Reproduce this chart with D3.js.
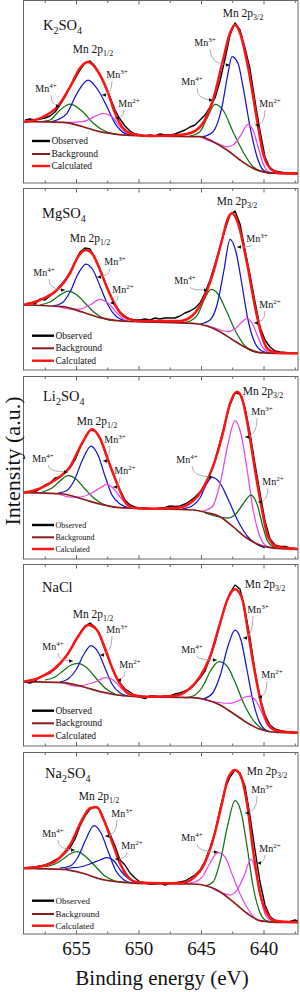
<!DOCTYPE html>
<html lang="en">
<head>
<meta charset="utf-8">
<script src="https://d3js.org/d3.v7.min.js"></script>
<title>Mn 2p XPS</title>
<style>
  body{margin:0;background:#fff;}
</style>
</head>
<body>
<script>

// ---------- data ----------

// sampling energies of the observed spectra (eV)
var energy = [659.08,658.68,658.28,657.88,657.48,657.08,656.68,656.28,655.88,655.48,
  655.08,654.68,654.28,653.88,653.48,653.08,652.68,652.28,651.88,651.48,
  651.08,650.68,650.28,649.88,649.48,649.08,648.68,648.28,647.88,647.48,
  647.08,646.68,646.28,645.88,645.48,645.08,644.68,644.28,643.88,643.48,
  643.08,642.68,642.28,641.88,641.48,641.08,640.68,640.28,639.88,639.48,
  639.08,638.68,638.28,637.88,637.48,637.08];

var tickMajor = [655, 650, 645, 640];
var tickMinor = [657.5, 652.5, 647.5, 642.5, 637.5];
var samples = ["K_{2}SO_{4}", "MgSO_{4}", "Li_{2}SO_{4}", "NaCl", "Na_{2}SO_{4}"];
var peaks = ["Mn 2p_{1/2}", "Mn 2p_{3/2}"];
var ions = ["Mn^{4+}", "Mn^{3+}", "Mn^{2+}"];
var legendNames = ["Observed", "Background", "Calculated"];

// K2SO4
var k2Observed = [63,64,63,64,65,67,71,78,86,96,104,113,120,122,117,108,97,86,73,64,
  57,52,49,48,47,48,47,49,48,48,49,51,53,56,58,63,68,76,85,102,
  124,148,160,153,135,114,82,52,26,15,12,11,10,10,9.7,9.7];
var k2Background = [[659.2,61.3],[656.04,60.7],[654.44,56.3],[653.08,51.3],[651.72,48.7],[650.12,47.3],[648.28,46.8],[645.08,46.3],[644.04,41.3],[642.92,33],[641.88,23],[640.84,14.7],[639.72,10.3],[638.44,9.3],[637.24,9]];
var k2Calculated = [[659.2,61],[657.64,66],[656.44,77],[655.48,96],[654.68,115],[654.04,121],[653.32,113],[652.52,93],[651.88,70],[651.24,55],[650.44,49],[649.08,47],[646.68,48],[645.64,51],[644.84,60],[644.04,83],[643.24,123],[642.68,150],[642.28,158],[641.88,150],[641.24,116],[640.52,63],[640.04,30],[639.48,15],[638.68,10],[637.24,9.7]];
var k2Mn4a = [[657.72,61.5],[657.08,63],[656.28,73],[655.48,79],[654.44,71],[653.64,60],[652.52,51],[651.72,48.7]];
var k2Mn3a = [[657.0,61.2],[656.52,63],[655.72,69.7],[654.92,89.7],[654.04,103],[653.24,93],[652.52,76.3],[651.88,59.7],[651.08,49.7],[650.44,48]];
var k2Mn2a = [[656.04,60.7],[655.48,60.7],[654.44,61.3],[653.64,65.7],[652.84,69.7],[652.12,66.3],[651.48,56.3],[650.84,49.7],[650.12,47.7]];
var k2Mn4b = [[645.88,47],[645.08,51.3],[644.52,64.7],[643.88,78.7],[643.24,73],[642.44,51.3],[641.64,31.3],[640.84,16.3],[640.04,11.3],[639.24,9.7]];
var k2Mn3b = [[644.84,46.3],[644.04,51.3],[643.32,76.3],[642.84,109.7],[642.52,126.3],[642.04,119.7],[641.64,96.3],[641.08,56.3],[640.52,26.3],[640.04,13],[639.48,9.7]];
var k2Mn2b = [[645.08,46.5],[644.52,43],[643.72,39.7],[642.92,36.3],[642.44,38],[641.88,46.3],[641.24,58.7],[640.84,53],[640.44,36.3],[640.04,19.7],[639.64,11.3],[638.92,9.7]];

// MgSO4
var mgObserved = [66,67,66,71,70,74,78,84,90,98,108,118,122,121,112,101,88,76,66,58,
  54,51,50,50,51,50,52,51,52,52,52,54,57,59,62,67,77,90,106,123,
  140,155,159,146,120,95,68,43,30,23,19,18,17.5,17,17,16.7];
var mgBackground = [[659.2,65],[656.04,63.3],[654.44,57.7],[653.08,52.3],[651.72,49.3],[650.12,48.3],[645.64,46.7],[644.52,44],[643.48,38.3],[642.44,30],[641.32,21.7],[640.28,17.3],[638.92,16.7],[637.24,16.7]];
var mgCalculated = [[659.2,65],[657.88,70],[656.52,80],[655.48,96.7],[654.84,113.3],[654.2,120],[653.72,116.7],[653.08,100],[652.44,80],[651.72,61.7],[650.92,51.7],[649.88,49],[646.68,49],[645.64,55],[644.84,70],[644.04,96.7],[643.32,130],[642.84,151.7],[642.52,156.7],[642.04,146.7],[641.32,106.7],[640.68,63.3],[640.12,33.3],[639.64,20.7],[638.92,17.3],[637.24,16.7]];
var mgMn4a = [[657.88,65],[657.08,68],[656.28,75],[655.64,79],[654.92,75],[654.28,67],[653.48,57],[652.68,51],[651.88,49]];
var mgMn3a = [[656.84,64],[656.12,67],[655.48,78],[654.84,96],[654.2,106],[653.64,100],[653.08,84],[652.44,65],[651.72,53],[650.92,49]];
var mgMn2a = [[656.28,63],[655.48,61],[654.68,61],[653.88,65],[653.08,70.7],[652.44,67],[651.8,58],[651.08,50],[650.44,48]];
var mgMn4b = [[646.68,47],[645.88,49],[645.24,56],[644.68,72],[644.2,80.7],[643.64,76],[643,60],[642.28,40],[641.48,24],[640.68,18],[640.12,17]];
var mgMn3b = [[645.08,46],[644.28,50],[643.72,65],[643.16,100],[642.68,130.7],[642.2,118],[641.72,85],[641.24,50],[640.68,27],[640.12,19],[639.48,17]];
var mgMn2b = [[644.68,45],[643.88,42],[643.32,39.5],[642.84,38.5],[642.28,41],[641.72,48],[641.32,51.7],[640.92,47],[640.44,33],[640.04,22],[639.48,17.5],[638.84,16.8]];

// Li2SO4
var liObserved = [66.5,67,67,70,74,76,81,82,87,91,99,111,121,129,128,121,109,94,80,69,
  59,54,52,50.5,51,50.5,50,51,51.5,53,52.5,53,55,58,62,67,75,85,99,117,
  136,154,166,165,151,126,95,66,38,20,14,12.5,12.5,11,10.5,10];
var liBackground = [[659.2,66.3],[656.04,65],[654.44,59.7],[653.08,55],[651.72,51.7],[650.12,50.7],[645.64,49],[644.52,46.3],[643.48,42.3],[642.44,32.3],[641.32,20.7],[640.28,14],[638.92,10.7],[637.24,10]];
var liCalculated = [[659.2,66.3],[657.88,70.7],[656.68,79],[655.48,92.3],[654.52,115.7],[653.72,129.7],[653.08,120.7],[652.44,99],[651.72,75.7],[651.08,57.3],[650.44,51.3],[649.08,50.3],[646.92,51.3],[645.72,57.3],[644.84,70.7],[644.04,92.3],[643.32,122.3],[642.68,155.7],[642.12,167.3],[641.72,160.7],[641.24,132.3],[640.68,89],[640.12,49],[639.64,22.3],[638.92,12.3],[637.24,10]];
var liMn4a = [[657.72,67],[656.92,71],[656.28,78],[655.64,83.3],[655,80],[654.28,70],[653.48,60],[652.68,54],[651.88,52]];
var liMn3a = [[656.44,66],[655.8,68],[655.16,78],[654.52,98],[653.8,113],[653.24,104],[652.68,83],[652.12,64],[651.48,55],[650.84,51.5]];
var liMn2a = [[656.28,64.5],[655.48,62],[654.68,62],[653.88,65],[653.08,71],[652.52,74.7],[652.04,71],[651.48,62],[650.84,54],[650.28,51]];
var liMn4b = [[646.52,50],[645.72,53],[645.08,61],[644.6,74],[644.12,81.7],[643.48,76],[642.84,60],[642.04,38],[641.24,22],[640.44,14],[639.88,11]];
var liMn3b = [[644.84,48],[644.12,52],[643.48,75],[642.84,115],[642.28,138.3],[641.8,125],[641.32,90],[640.84,50],[640.36,25],[639.88,14],[639.32,11]];
var liMn2b = [[644.68,46],[643.88,43],[643.32,41.5],[642.84,41],[642.28,44],[641.64,55],[641,64],[640.52,55],[640.04,32],[639.64,17],[639.08,11.5],[638.44,10.3]];

// NaCl
var naclObserved = [64,63,65,69,71,73,77,82,88,95,105,113,120,123,119,110,96,83,71,63,
  57,54,50,49,47.5,50,50,49,50,50,52,53,55,57,62,68,75,88,103,122,
  140,153,161,157,136,108,75,48,31,21,17,15.5,14.5,13.5,13,13.3];
var naclBackground = [[659.2,64.3],[656.04,63.3],[654.44,59.3],[653.08,54.3],[651.72,51],[650.12,49.3],[645.64,48.3],[644.52,46],[643.48,41],[642.44,32.7],[641.32,23.3],[640.28,16.7],[638.92,13.7],[637.24,13.3]];
var naclCalculated = [[659.2,64.3],[657.88,68.7],[656.68,77.7],[655.72,91],[654.84,109.3],[654.04,121],[653.32,116],[652.68,97.7],[652.04,76],[651.32,59.3],[650.68,51.7],[649.32,49.3],[647.24,50],[646.04,56],[645.08,69.3],[644.28,89.3],[643.48,122.7],[642.84,147.7],[642.28,156.7],[641.72,147.7],[641.24,114.3],[640.68,72.7],[640.12,39.3],[639.64,22],[638.92,15.3],[637.24,13.3]];
var naclMn4a = [[657.48,66],[656.68,69],[656.04,75],[655.4,81],[654.84,82.7],[654.2,79],[653.48,69],[652.68,58],[651.88,52],[651.08,50]];
var naclMn3a = [[656.28,64],[655.64,67],[655,76],[654.36,92],[653.8,100.3],[653.24,94],[652.68,78],[652.12,62],[651.48,53],[650.84,50]];
var naclMn2a = [[655.88,62.5],[655.08,60],[654.28,61],[653.48,64],[652.6,68.3],[652.04,66],[651.48,59],[650.84,52],[650.2,49.5]];
var naclMn4b = [[646.28,48],[645.48,51],[644.84,60],[644.2,76],[643.56,84.3],[642.92,80],[642.28,64],[641.56,42],[640.84,26],[640.12,17],[639.48,14]];
var naclMn3b = [[644.84,47],[644.12,52],[643.48,70],[642.84,100],[642.28,116],[641.8,106],[641.32,76],[640.84,45],[640.36,25],[639.88,16.5],[639.32,14]];
var naclMn2b = [[644.68,46],[643.88,44],[643.24,43],[642.68,42.7],[642.04,45],[641.48,49],[641.08,50],[640.6,45],[640.12,33],[639.64,20],[639.08,15],[638.44,13.7]];

// Na2SO4
var naObserved = [66,66.5,67,68,69,71,74,76,81,86,95,108,118,125,127.5,124,112,100,88,74,
  69,61,56,52,51,50,50,51,49,51,51,52,53,56,59,64,73,86,102,125,
  145,157,164,161,148,118,84,52,29,17.5,13.5,12.3,12,12.5,14,12];
var naBackground = [[659.2,65.7],[656.04,64.7],[654.44,60.7],[653.08,55],[651.72,52.3],[650.12,50.7],[645.64,50],[644.52,48],[643.48,42.3],[642.44,32.3],[641.32,20.7],[640.28,13.3],[638.92,11.7],[637.24,11.7]];
var naCalculated = [[659.2,65.7],[657.64,68],[656.52,74],[655.48,89],[654.52,114],[653.88,125.7],[653.32,126.7],[652.84,115.7],[652.12,92.3],[651.48,70.7],[650.84,57.3],[650.12,52],[648.28,50.7],[646.44,51.3],[645.48,57.3],[644.84,67.3],[644.04,94],[643.32,130.7],[642.84,155.7],[642.28,164],[641.8,157.3],[641.32,130.7],[640.84,84],[640.28,40.7],[639.72,20.7],[639.08,13.3],[637.24,11.7]];
var naMn4a = [[657.48,67],[656.68,70],[656.04,75],[655.48,80],[654.92,82.3],[654.28,78],[653.48,68],[652.68,58],[651.88,53],[651.08,51]];
var naMn3a = [[656.28,66],[655.48,68],[654.84,77],[654.2,95],[653.56,108.3],[653,101],[652.44,83],[651.8,63],[651.16,54],[650.52,51]];
var naMn2a = [[655.88,65.5],[655.48,66],[654.68,67],[653.88,70],[653.08,74],[652.52,76.3],[651.96,73],[651.4,63],[650.76,55],[650.12,51]];
var naMn4b = [[646.28,50.5],[645.48,52],[644.84,58],[644.28,71],[643.64,81.3],[643.08,77],[642.52,60],[641.88,40],[641.24,25],[640.6,15],[640.04,12]];
var naMn3b = [[644.68,48],[644.04,52],[643.48,72],[642.84,110],[642.28,133.3],[641.8,122],[641.32,88],[640.84,48],[640.36,24],[639.88,14],[639.32,12]];
var naMn2b = [[644.12,46],[643.32,41],[642.68,39],[642.12,44],[641.56,58],[641,74.7],[640.6,62],[640.2,35],[639.8,18],[639.24,12.5],[638.68,11.7]];

var panelData = [
  {obs: k2Observed, bg: k2Background, calc: k2Calculated, comps: [k2Mn4a, k2Mn3a, k2Mn2a, k2Mn4b, k2Mn3b, k2Mn2b]},
  {obs: mgObserved, bg: mgBackground, calc: mgCalculated, comps: [mgMn4a, mgMn3a, mgMn2a, mgMn4b, mgMn3b, mgMn2b]},
  {obs: liObserved, bg: liBackground, calc: liCalculated, comps: [liMn4a, liMn3a, liMn2a, liMn4b, liMn3b, liMn2b]},
  {obs: naclObserved, bg: naclBackground, calc: naclCalculated, comps: [naclMn4a, naclMn3a, naclMn2a, naclMn4b, naclMn3b, naclMn2b]},
  {obs: naObserved, bg: naBackground, calc: naCalculated, comps: [naMn4a, naMn3a, naMn2a, naMn4b, naMn3b, naMn2b]}
];

// ---------- styles & layout ----------

var FONT = "'Liberation Serif', 'Times New Roman', Times, 'DejaVu Serif', serif";
var G = "#117011", B = "#1414c8", M = "#e845e8";
var compColors = [
  [G, B, M, G, B, M],
  [G, B, M, G, B, M],
  [G, B, M, B, M, G],
  [G, B, M, G, B, M],
  [G, B, B, M, G, M]
];
var legendColors = ["#000", "#8b1a1a", "#ff1414"];

var layout = [
  {top: 0.5, bottom: 183, legend: [42, 29, 17], legendSize: 9.5, lineEnd: 50},
  {top: 188.5, bottom: 370, legend: [34.3, 21.7, 9.3], legendSize: 9.5, lineEnd: 54},
  {top: 376.5, bottom: 559, legend: [34, 21.7, 10], legendSize: 8, lineEnd: 54},
  {top: 564.5, bottom: 746, legend: [35.3, 22.7, 10.3], legendSize: 9.5, lineEnd: 54},
  {top: 752.5, bottom: 934, legend: [33.3, 20, 8.3], legendSize: 9, lineEnd: 54}
];

// annotation anchors in data coords [eV, intensity]
var notes = [
  {title: [657.64, 153], p12: [653.64, 130], p32: [641.64, 166],
   ions: [[[657.40, 91], [656.28, 77]], [[651.72, 105], [652.92, 88]], [[650.76, 76], [651.88, 65]],
          [[645.72, 98], [644.04, 83]], [[644.68, 137], [642.68, 118]], [[639.48, 76], [640.68, 58]]]},
  {title: [657.72, 152], p12: [653.88, 128], p32: [642.12, 165],
   ions: [[[657.56, 94], [655.88, 80]], [[651.88, 105], [653.32, 93]], [[651.24, 77], [652.28, 67]],
          [[646.28, 86], [644.44, 80]], [[640.52, 128], [642.12, 123]], [[639.48, 62], [640.76, 47]]]},
  {title: [657.64, 158], p12: [653.32, 134], p32: [640.04, 164],
   ions: [[[657.64, 97], [655.64, 87]], [[651.88, 116], [652.84, 98]], [[651.08, 85], [652.04, 72]],
          [[646.12, 96], [644.04, 82]], [[640.12, 144], [641.48, 122]], [[639.24, 74], [640.44, 57]]]},
  {title: [657.72, 154], p12: [653.64, 128], p32: [639.88, 158],
   ions: [[[656.84, 96], [655.24, 85]], [[651.72, 113], [653.08, 91]], [[650.68, 78], [651.72, 66]],
          [[645.72, 93], [643.72, 86]], [[640.44, 133], [641.64, 108]], [[639.32, 68], [640.44, 49]]]},
  {title: [657.48, 156], p12: [653.16, 134], p32: [639.72, 159],
   ions: [[[656.84, 97], [655.08, 84]], [[651.32, 117], [652.68, 98]], [[650.52, 85], [651.88, 75]],
          [[645.72, 93], [643.64, 82]], [[640.12, 141], [641.48, 121]], [[639.48, 82], [640.52, 71]]]}
];
// which ion label each annotation uses (order of comps: 4+,3+,2+ for 2p1/2 then 4+,3+,2+ for 2p3/2)
var noteIon = [0, 1, 2, 0, 1, 2];

// ---------- drawing ----------

var width = 300, height = 992;
var svg = d3.select("body").append("svg").attr("width", width).attr("height", height)
  .attr("font-family", FONT);
var defs = svg.append("defs");

var x = d3.scaleLinear().domain([659.2, 637.24]).range([23.5, 298]);

// new text element in the serif face
function txt(sel) {
  return sel.append("text").style("font-family", FONT).attr("fill", "#111");
}

// write text with _{sub} and ^{sup} parts as tspans
function rich(sel, str, size, small) {
  var parts = str.split(/([_^]\{[^}]*\})/).filter(function(s){ return s.length; });
  var shift = 0;
  sel.style("font-size", size + "px");
  parts.forEach(function(s){
    var t = sel.append("tspan");
    if (s[0] == "_" || s[0] == "^") {
      var d = s[0] == "_" ? size * 0.28 : -size * 0.4;
      t.text(s.slice(2, -1)).style("font-size", small + "px").attr("dy", d - shift);
      shift = d;
    } else {
      t.text(s).attr("dy", -shift);
      shift = 0;
    }
  });
}

panelData.forEach(function(p, i){
  var L = layout[i], N = notes[i];
  var y = d3.scaleLinear().domain([0, 183]).range([L.bottom, L.bottom - 183]);
  var g = svg.append("g");

  defs.append("clipPath").attr("id", "clip" + i).append("rect")
    .attr("x", 23.5).attr("y", L.top).attr("width", 274.5).attr("height", L.bottom - L.top);
  var plot = g.append("g").attr("clip-path", "url(#clip" + i + ")");

  var smooth = d3.line().x(function(d){ return x(d[0]); }).y(function(d){ return y(d[1]); })
    .curve(d3.curveMonotoneX);
  var raw = d3.line().x(function(d){ return x(d[0]); }).y(function(d){ return y(d[1]); });

  // observed
  plot.append("path").datum(d3.zip(energy, p.obs)).attr("d", raw)
    .attr("fill", "none").attr("stroke", "#000").attr("stroke-width", 1.4).attr("stroke-linejoin", "round");

  // components
  p.comps.forEach(function(c, j){
    plot.append("path").datum(c).attr("d", smooth)
      .attr("fill", "none").attr("stroke", compColors[i][j]).attr("stroke-width", 1.25);
  });

  // background
  plot.append("path").datum(p.bg).attr("d", smooth)
    .attr("fill", "none").attr("stroke", legendColors[1]).attr("stroke-width", 1.7);

  // calculated
  plot.append("path").datum(p.calc).attr("d", smooth)
    .attr("fill", "none").attr("stroke", legendColors[2]).attr("stroke-width", 2.5);

  // frame
  g.append("rect").attr("x", 23.5).attr("y", L.top).attr("width", 274.5).attr("height", L.bottom - L.top)
    .attr("fill", "none").attr("stroke", "#666").attr("stroke-width", 1);

  // inward ticks top and bottom
  function ticks(axis, ty) {
    g.append("g").attr("transform", "translate(0," + ty + ")").call(axis)
      .call(function(s){ s.select(".domain").remove(); s.selectAll("line").attr("stroke", "#666"); });
  }
  ticks(d3.axisBottom(x).tickValues(tickMajor).tickSize(-4).tickFormat(""), L.bottom);
  ticks(d3.axisBottom(x).tickValues(tickMinor).tickSize(-2.5).tickFormat(""), L.bottom);
  ticks(d3.axisTop(x).tickValues(tickMajor).tickSize(-4).tickFormat(""), L.top);
  ticks(d3.axisTop(x).tickValues(tickMinor).tickSize(-2.5).tickFormat(""), L.top);

  // legend
  legendNames.forEach(function(name, k){
    var yy = L.bottom - L.legend[k];
    g.append("line").attr("x1", 32).attr("x2", L.lineEnd).attr("y1", yy).attr("y2", yy)
      .attr("stroke", legendColors[k]).attr("stroke-width", k == 1 ? 2 : 2.4);
    txt(g).attr("x", L.lineEnd + 1.5).attr("y", yy + 3)
      .style("font-size", L.legendSize + "px").text(name);
  });

  // sample name and peak names
  rich(txt(g).attr("x", x(N.title[0])).attr("y", y(N.title[1])), samples[i], 14.5, 10);
  rich(txt(g).attr("x", x(N.p12[0])).attr("y", y(N.p12[1])).attr("text-anchor", "middle"), peaks[0], 11.5, 8);
  rich(txt(g).attr("x", x(N.p32[0])).attr("y", y(N.p32[1])).attr("text-anchor", "middle"), peaks[1], 11.5, 8);

  // ion labels with connectors
  N.ions.forEach(function(a, k){
    var lx = x(a[0][0]), ly = y(a[0][1]), tx = x(a[1][0]), ty = y(a[1][1]);
    var s = tx > lx ? 1 : -1;
    var sx = lx + s * 5, sy = ly + 3;
    g.append("path").attr("d", "M" + sx + "," + sy + " Q" + sx + "," + ty + " " + tx + "," + ty)
      .attr("fill", "none").attr("stroke", "#9a9a9a").attr("stroke-width", 0.8);
    g.append("path").attr("d", "M" + tx + "," + ty + " L" + (tx - s * 4) + "," + (ty - 1.8) + " L" + (tx - s * 4) + "," + (ty + 1.8) + "Z")
      .attr("fill", "#111");
    rich(txt(g).attr("x", lx).attr("y", ly).attr("text-anchor", "middle"), ions[noteIon[k]], 10, 7);
  });
});

// energy labels under the last panel
svg.append("g").attr("transform", "translate(0,934)")
  .call(d3.axisBottom(x).tickValues(tickMajor).tickSize(0).tickPadding(8).tickFormat(d3.format("d")))
  .call(function(s){
    s.attr("font-family", FONT).select(".domain").remove();
    s.selectAll("text").style("font-family", FONT).style("font-size", "19px").attr("fill", "#111");
  });

// axis titles
txt(svg).attr("x", 162).attr("y", 985).attr("text-anchor", "middle")
  .style("font-size", "21px").text("Binding energy (eV)");
txt(svg).attr("transform", "translate(19.5,461) rotate(-90)").attr("text-anchor", "middle")
  .style("font-size", "22px").text("Intensity (a.u.)");

</script>
</body>
</html>
